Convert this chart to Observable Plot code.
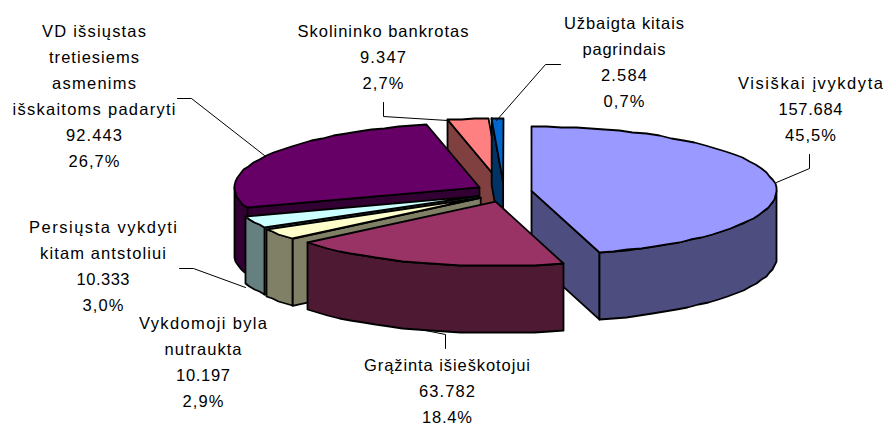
<!DOCTYPE html>
<html>
<head>
<meta charset="utf-8">
<script src="https://cdn.jsdelivr.net/npm/d3@7"></script>
<script src="https://cdn.jsdelivr.net/npm/@observablehq/plot@0.6"></script>
<style>html,body{margin:0;padding:0;background:#fff}svg{display:block}</style>
</head>
<body>
<div id="chart"></div>
<script>
const categories = [["Visiškai įvykdyta"], ["Grąžinta išieškotojui"], ["Vykdomoji byla", "nutraukta"], ["Persiųsta vykdyti", "kitam antstoliui"], ["VD išsiųstas", "tretiesiems", "asmenims", "išskaitoms padaryti"], ["Skolininko bankrotas"], ["Užbaigta kitais", "pagrindais"]];
const values = [157684, 63782, 10197, 10333, 92443, 9347, 2584];
const valueLabels = ["157.684", "63.782", "10.197", "10.333", "92.443", "9.347", "2.584"];
const shareLabels = ["45,5%", "18,4%", "2,9%", "3,0%", "26,7%", "2,7%", "0,7%"];
const topColors = ["#9999FF", "#993366", "#FFFFCC", "#CCFFFF", "#660066", "#FF8080", "#0066CC"];
const sideColors = ["#4D4D80", "#4D1933", "#808066", "#668080", "#330033", "#804040", "#003366"];

// layout of the 3D pie
const cx = 503.3, cy = 191.7, a = 245, b = 64.3, depth = 67, explodeX = 28, explodeY = 9.8;
// label block centres, first-line centre, and the drawn width of each line
const labelX = [810, 446.5, 202.5, 102.5, 93.5, 382.5, 623.5];
const labelY = [83, 365, 323, 227, 31, 31, 23];
const nameWidths = [[145], [166], [128, 77], [148, 126], [104, 90, 84, 163], [171], [120, 83]];
const valueWidths = [64, 56, 54, 53, 56, 46, 46];
const shareWidths = [51, 50, 41, 41, 51, 41, 41];
const leaders = [
  [[776,182],[809,168],[809,154]],
  [[420,329],[445,334],[445,348]],
  [],
  [[245,287],[193,268],[179,268]],
  [[264,155],[191,98],[177,98]],
  [[447,120],[383,116],[383,102]],
  [[496,120],[545,64],[560,64]]
];
const lineStep = 26.1;

const total = d3.sum(values);
const rad = d => d * Math.PI / 180;
let acc = 0;
const slices = values.map((v, i) => {
  const t0 = acc / total * 360; acc += v;
  const t1 = acc / total * 360, mid = rad((t0 + t1) / 2);
  return {i, t0, t1, c: [cx + explodeX * Math.sin(mid), cy - explodeY * Math.cos(mid)]};
});
const pt = (s, t) => [s.c[0] + a * Math.sin(rad(t)), s.c[1] - b * Math.cos(rad(t))];
const arc = (s, t0, t1) => {
  const n = Math.max(1, Math.ceil((t1 - t0) / 3.5));
  return d3.range(n + 1).map(k => pt(s, t0 + (t1 - t0) * k / n).map(Math.round));
};
const down = p => [p[0], p[1] + depth];

let faceId = 0;
const vertices = [];
const addFace = (pts, fill) => {
  const id = faceId++;
  [...pts, pts[0]].forEach(p => vertices.push({x: p[0], y: p[1], id, fill}));
};
const drawOrder = [5, 6, 0, 4, 3, 2, 1];
for (const idx of drawOrder) {
  const s = slices[idx], side = sideColors[idx], top = topColors[idx];
  const pS = pt(s, s.t0), pE = pt(s, s.t1);
  if (pE[0] > s.c[0] + 0.5) addFace([s.c, pE, down(pE), down(s.c)], side);
  if (pS[0] < s.c[0] - 0.5) addFace([s.c, pS, down(pS), down(s.c)], side);
  const w0 = Math.max(s.t0, 90), w1 = Math.min(s.t1, 270);
  if (w1 > w0) {
    const outer = arc(s, w0, w1);
    addFace([...outer, ...outer.map(down).reverse()], side);
  }
  addFace([s.c, ...arc(s, s.t0, s.t1)], top);
}

const leaderPoints = leaders.flatMap((l, i) => l.map(p => ({x: p[0], y: p[1], i})));
const labelRows = categories.flatMap((names, i) => {
  const lines = [...names.map((text, k) => ({text, w: nameWidths[i][k]})),
                 {text: valueLabels[i], w: valueWidths[i]}, {text: shareLabels[i], w: shareWidths[i]}];
  return lines.map((l, k) => ({...l, x: labelX[i], y: labelY[i] + k * lineStep}));
});

const chart = Plot.plot({
  width: 883, height: 423, margin: 0,
  style: {background: "#fff"},
  x: {domain: [0, 883], range: [0, 883], axis: null},
  y: {domain: [0, 423], range: [0, 423], axis: null},
  marks: [
    Plot.line(vertices, {x: "x", y: "y", z: "id", fill: "fill", stroke: "#000",
      strokeWidth: 1.8, strokeLinejoin: "round"}),
    Plot.line(leaderPoints, {x: "x", y: "y", z: "i", stroke: "#000", strokeWidth: 1}),
    Plot.text(labelRows, {x: "x", y: "y", text: "text", textAnchor: "middle", lineAnchor: "middle",
      fontSize: 16.5, fontFamily: "Liberation Sans, Arial, sans-serif", fill: "#000",
      className: "pie-label"})
  ]
});
d3.select(chart).selectAll(".pie-label text").each(function (_, i) {
  d3.select(this).attr("textLength", labelRows[i].w).attr("lengthAdjust", "spacing");
});
document.getElementById("chart").append(chart);
</script>
</body>
</html>
